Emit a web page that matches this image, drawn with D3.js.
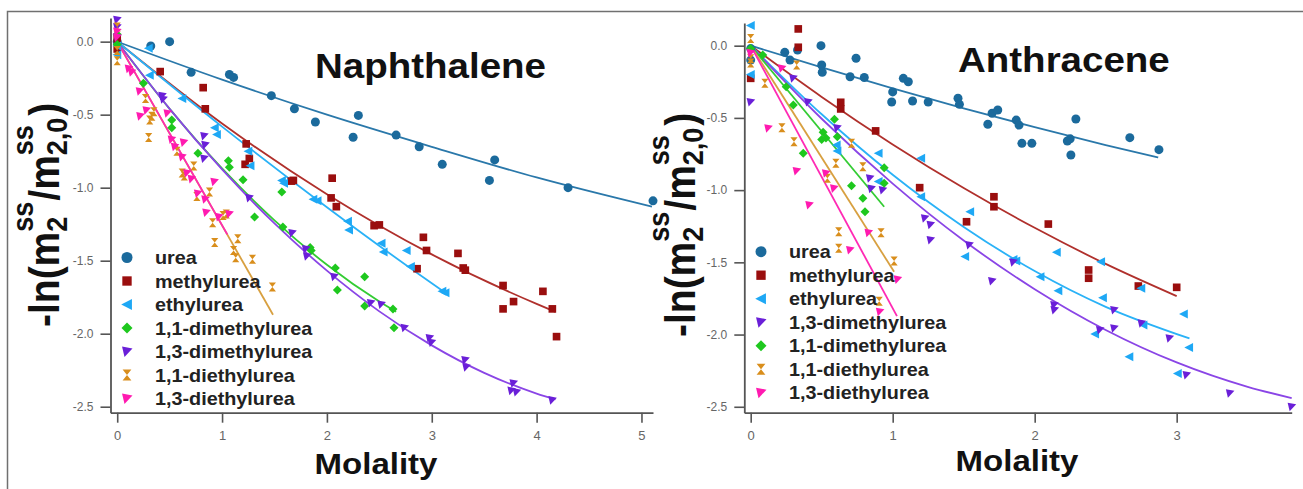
<!DOCTYPE html>
<html><head><meta charset="utf-8">
<script src="https://cdn.jsdelivr.net/npm/d3@7/dist/d3.min.js"></script>
<style>
html,body{margin:0;padding:0;background:#fff;}
svg{display:block;font-family:"Liberation Sans",Arial,Helvetica,sans-serif;}
</style></head>
<body><svg id="chart" width="1303" height="489"></svg>
<script>
// ---------- DATA ----------
const naphLegendOrder = ["urea","methylurea","ethylurea","1,1-dimethylurea","1,3-dimethylurea","1,1-diethylurea","1,3-diethylurea"];
const anthLegendOrder = ["urea","methylurea","ethylurea","1,3-dimethylurea","1,1-dimethylurea","1,1-diethylurea","1,3-diethylurea"];
const naphXTicks = [0,1,2,3,4,5];
const anthXTicks = [0,1,2,3];
const yTicks = [0,-0.5,-1.0,-1.5,-2.0,-2.5];

// Naphthalene points [molality, -ln(m2/m2,0)]
const naphUrea = [[0,0],[0.32,-0.03],[0.5,0.0],[0.705,-0.21],[1.07,-0.225],[1.11,-0.245],[1.47,-0.37],[1.69,-0.46],[1.89,-0.55],[2.25,-0.655],[2.30,-0.505],[2.66,-0.64],[2.88,-0.72],[3.10,-0.84],[3.55,-0.95],[3.60,-0.81],[4.30,-1.0],[5.11,-1.09]];
const naphMethyl = [[0,-0.05],[0,0.02],[0.41,-0.205],[0.82,-0.315],[0.84,-0.46],[1.23,-0.70],[1.22,-0.84],[1.26,-0.80],[1.66,-0.955],[1.68,-0.95],[2.05,-0.935],[2.04,-1.07],[2.09,-1.13],[2.45,-1.26],[2.50,-1.255],[2.86,-1.555],[2.92,-1.34],[2.95,-1.43],[3.25,-1.45],[3.30,-1.55],[3.32,-1.565],[3.68,-1.67],[3.68,-1.83],[3.78,-1.78],[4.06,-1.71],[4.15,-1.83],[4.19,-2.02]];
const naphEthyl = [[0,-0.09],[0,-0.03],[0.30,-0.046],[0.31,-0.23],[0.62,-0.39],[0.93,-0.59],[0.95,-0.635],[1.25,-0.75],[1.27,-0.85],[1.57,-0.95],[1.59,-0.97],[1.87,-1.08],[1.91,-1.09],[2.20,-1.23],[2.21,-1.29],[2.52,-1.38],[2.54,-1.44],[2.76,-1.43],[2.80,-1.54],[3.10,-1.71],[3.13,-1.72]];
const naph11DiMe = [[0,0.05],[0,-0.02],[0.25,-0.285],[0.52,-0.536],[0.52,-0.59],[0.77,-0.765],[1.06,-0.815],[1.07,-0.86],[1.20,-0.945],[1.31,-1.20],[1.57,-1.03],[1.58,-1.27],[1.84,-1.41],[1.85,-1.43],[2.08,-1.55],[2.10,-1.70],[2.36,-1.61],[2.36,-1.81],[2.63,-1.83],[2.64,-1.96]];
const naph13DiMe = [[0,0.15],[0,0.1],[0,0.03],[0.44,-0.395],[0.43,-0.37],[0.83,-0.646],[0.84,-0.707],[0.83,-0.80],[1.26,-1.07],[1.67,-1.31],[1.81,-1.47],[1.80,-1.42],[2.07,-1.61],[2.42,-1.79],[2.52,-1.80],[2.74,-1.96],[2.98,-2.03],[3.0,-2.06],[3.32,-2.18],[3.33,-2.23],[3.76,-2.39],[3.78,-2.34],[3.81,-2.40],[4.15,-2.455]];
const naph11DiEt = [[0,0.1],[0,-0.13],[0,-0.06],[0.27,-0.39],[0.33,-0.51],[0.31,-0.537],[0.35,-0.48],[0.30,-0.657],[0.57,-0.75],[0.62,-0.90],[0.64,-0.92],[0.73,-0.851],[0.76,-1.06],[0.88,-1.03],[0.91,-1.24],[0.93,-1.375],[1.01,-1.19],[1.04,-1.18],[1.11,-1.43],[1.13,-1.48],[1.15,-1.35],[1.29,-1.49],[1.48,-1.68]];
const naph13DiEt = [[0,0.07],[0,0.03],[0.11,-0.185],[0.14,-0.21],[0.215,-0.34],[0.22,-0.51],[0.28,-0.47],[0.48,-0.49],[0.52,-0.67],[0.55,-0.72],[0.62,-0.79],[0.635,-0.69],[0.667,-0.90],[0.71,-0.94],[0.77,-1.04],[0.84,-1.08],[0.927,-0.96],[0.85,-1.17],[0.97,-1.20],[1.07,-1.18]];

// Naphthalene fitted curves
const naphFitUrea = [[0,0],[1,-0.26],[2,-0.50],[3,-0.72],[4,-0.93],[5.1,-1.13]];
const naphFitMethyl = [[0,0],[1,-0.56],[2,-1.045],[3,-1.457],[4,-1.796],[4.18,-1.85]];
const naphFitEthyl = [[0,0],[1,-0.582],[2,-1.134],[3,-1.655],[3.16,-1.735]];
const naphFit11DiMe = [[0,0],[0.5,-0.46],[1,-0.868],[1.5,-1.224],[2,-1.528],[2.5,-1.78],[2.66,-1.85]];
const naphFit13DiMe = [[0,0],[0.5,-0.46],[1,-0.875],[1.5,-1.245],[2,-1.568],[2.5,-1.847],[3,-2.08],[3.5,-2.268],[4,-2.41],[4.18,-2.45]];
const naphFit11DiEt = [[0,0],[1.486,-1.87]];
const naphFit13DiEt = [[0,0],[1.05,-1.32]];

// Anthracene points
const anthUrea = [[0,-0.02],[0,-0.1],[0.24,-0.046],[0.277,-0.10],[0.33,-0.03],[0.495,0.0],[0.50,-0.134],[0.504,-0.184],[0.70,-0.215],[0.742,-0.087],[0.80,-0.22],[0.993,-0.39],[1.00,-0.32],[1.075,-0.226],[1.11,-0.25],[1.14,-0.383],[1.25,-0.39],[1.46,-0.364],[1.47,-0.406],[1.67,-0.544],[1.70,-0.468],[1.74,-0.445],[1.87,-0.515],[1.89,-0.55],[1.91,-0.676],[1.98,-0.676],[2.23,-0.66],[2.25,-0.645],[2.255,-0.757],[2.29,-0.508],[2.67,-0.637],[2.875,-0.72]];
const anthMethyl = [[0,-0.226],[0.335,0.116],[0.335,-0.011],[0.634,-0.392],[0.634,-0.438],[0.88,-0.59],[1.19,-0.983],[1.52,-1.219],[1.713,-1.046],[1.713,-1.115],[2.096,-1.235],[2.38,-1.553],[2.38,-1.61],[2.73,-1.664],[3.00,-1.673]];
const anthEthyl = [[0,0.14],[0,-0.2],[0.605,-0.688],[0.61,-0.73],[0.90,-0.745],[0.90,-0.94],[1.20,-0.78],[1.20,-1.046],[1.545,-1.15],[1.51,-1.46],[1.85,-1.48],[1.87,-1.49],[2.04,-1.60],[2.155,-1.43],[2.166,-1.697],[2.425,-1.997],[2.467,-1.496],[2.48,-1.745],[2.666,-2.154],[2.75,-1.68],[2.765,-1.934],[3.007,-2.27],[3.05,-1.858],[3.087,-2.09]];
const anth13DiMe = [[0,-0.39],[0.30,-0.226],[0.405,-0.39],[0.61,-0.57],[0.84,-0.918],[0.85,-0.99],[0.93,-1.0],[1.227,-1.195],[1.267,-1.24],[1.267,-1.345],[1.54,-1.38],[1.70,-1.63],[1.85,-1.50],[2.138,-1.796],[2.14,-1.83],[2.46,-1.969],[2.56,-1.957],[2.56,-1.83],[2.753,-1.922],[2.95,-2.026],[3.07,-2.28],[3.375,-2.407],[3.81,-2.50]];
const anth11DiMe = [[0,-0.02],[0.085,-0.064],[0.25,-0.284],[0.30,-0.41],[0.37,-0.745],[0.51,-0.60],[0.50,-0.65],[0.53,-0.64],[0.59,-0.51],[0.61,-0.63],[0.71,-0.97],[0.79,-1.057],[0.805,-1.15],[0.94,-0.845],[0.94,-0.953]];
const anth11DiEt = [[0,0.05],[0,-0.09],[0,-0.12],[0.10,-0.26],[0.324,-0.134],[0.22,-0.568],[0.305,-0.665],[0.54,-0.918],[0.60,-0.814],[0.71,-0.676],[0.79,-0.838],[0.62,-1.288],[0.62,-1.403],[0.918,-1.295],[1.01,-1.49],[0.905,-1.77]];
const anth13DiEt = [[0,-0.05],[0.22,-0.157],[0.124,-0.572],[0.324,-0.868],[0.413,-1.103],[0.53,-0.884],[0.587,-0.988],[0.70,-1.415],[0.83,-1.295],[1.035,-1.618],[0.91,-1.842]];

// Anthracene fitted curves
const anthFitUrea = [[0,0],[0.5,-0.15],[1,-0.296],[1.5,-0.434],[2,-0.564],[2.5,-0.688],[2.87,-0.774]];
const anthFitMethyl = [[0,0],[0.5,-0.355],[1,-0.684],[1.5,-0.986],[2,-1.261],[2.5,-1.511],[3,-1.734]];
const anthFitEthyl = [[0,0],[0.5,-0.475],[1,-0.894],[1.5,-1.255],[2,-1.56],[2.5,-1.808],[3.09,-2.027]];
const anthFit13DiMe = [[0,0],[0.5,-0.506],[1,-0.955],[1.5,-1.349],[2,-1.686],[2.5,-1.968],[3,-2.193],[3.5,-2.362],[3.81,-2.44]];
const anthFit11DiMe = [[0,0],[0.94,-1.115]];
const anthFit11DiEt = [[0,0],[1.01,-1.565]];
const anthFit13DiEt = [[0,0],[1.03,-1.872]];

// ---------- STYLE ----------
const markerColor = {"urea":"#1b6a9c","methylurea":"#9a0e0e","ethylurea":"#1ea8f5","1,1-dimethylurea":"#1ec81e","1,3-dimethylurea":"#6a1fd8","1,1-diethylurea":"#d98e1c","1,3-diethylurea":"#ff1ab0"};
const lineColor = {"urea":"#2a78aa","methylurea":"#b0302c","ethylurea":"#2ab2f7","1,1-dimethylurea":"#33cc33","1,3-dimethylurea":"#8a45e6","1,1-diethylurea":"#d8a040","1,3-diethylurea":"#ff2ab4"};
const markerShape = {"urea":"circle","methylurea":"square","ethylurea":"left","1,1-dimethylurea":"diamond","1,3-dimethylurea":"corner","1,1-diethylurea":"hourglass","1,3-diethylurea":"corner"};

function markerPath(shape, s){
  switch(shape){
    case "circle": return `M${-s},0A${s},${s} 0 1,0 ${s},0A${s},${s} 0 1,0 ${-s},0Z`;
    case "square": s*=0.85; return `M${-s},${-s}H${s}V${s}H${-s}Z`;
    case "left": return `M${-s*1.05},0L${s*0.9},${-s}L${s*0.9},${s}Z`;
    case "diamond": return `M0,${-s}L${s},0L0,${s}L${-s},0Z`;
    case "corner": return `M${-s*0.9},${-s*0.9}L${s},${-s*0.55}L${-s*0.45},${s}Z`;
    case "hourglass": return `M${-s*0.8},${-s}H${s*0.8}L0,0L${s*0.8},${s}H${-s*0.8}L0,0Z`;
  }
}

const SX = 1.1;
const svg = d3.select("#chart");
svg.append("rect").attr("width",1303).attr("height",489).attr("fill","#fff");
svg.append("path").attr("d","M7.5,489V11.5H1303").attr("fill","none").attr("stroke","#707070").attr("stroke-width",1.5);

function addText(g, x, y, str, size, opts={}){
  return g.append("text")
    .attr("transform",`translate(${x},${y}) scale(${SX},1)`)
    .attr("text-anchor", opts.anchor||"start")
    .style("font-size", size+"px")
    .style("font-weight", opts.weight||"bold")
    .attr("fill", opts.fill||"#111")
    .text(str);
}

function yLabel(x, y){
  const g = svg.append("g").attr("transform",`translate(${x},${y}) scale(${SX},1) rotate(-90)`)
    .style("font-weight","bold").attr("fill","#111");
  const main = 39, small = 27, subDy = 7, supDy = -24;
  let cx = 0;
  function piece(str, size, dy){
    const t = g.append("text").attr("x",cx).attr("y",dy).style("font-size",size+"px").text(str);
    return t.node().getComputedTextLength();
  }
  cx += piece("-ln(m", main, 0);
  let a = piece("2", small, subDy), b = piece("ss", small, supDy);
  cx += Math.max(a,b) + 1;
  cx += piece("/m", main, 0);
  a = piece("2,0", small, subDy); b = piece("ss", small, supDy);
  cx += Math.max(a,b) + 2;
  piece(")", main, 0);
}

function panel(cfg){
  const x = d3.scaleLinear().domain(cfg.xDomain).range(cfg.xRange);
  const y = d3.scaleLinear().domain(cfg.yDomain).range(cfg.yRange);
  const g = svg.append("g");
  const line = d3.line().x(d=>x(d[0])).y(d=>y(d[1])).curve(d3.curveMonotoneX);

  // fit lines
  cfg.names.forEach(n=>{
    g.append("path").datum(cfg.fits[n]).attr("d",line)
      .attr("fill","none").attr("stroke",lineColor[n]).attr("stroke-width",1.8);
  });
  // points
  cfg.names.forEach(n=>{
    g.selectAll(null).data(cfg.points[n]).join("path")
      .attr("transform",d=>`translate(${x(d[0])},${y(d[1])})`)
      .attr("d",markerPath(markerShape[n], 4.5))
      .attr("fill",markerColor[n]);
  });

  // axes
  const fmt = d=> d.toFixed(1);
  const ya = g.append("g").attr("transform",`translate(${cfg.xRange[0]},0)`)
    .call(d3.axisLeft(y).tickValues(yTicks).tickFormat(fmt).tickSize(10).tickPadding(7).tickSizeOuter(0));
  const xa = g.append("g").attr("transform",`translate(0,${cfg.yRange[1]})`)
    .call(d3.axisBottom(x).tickValues(cfg.xTicks).tickFormat(d3.format("d")).tickSize(10).tickPadding(8).tickSizeOuter(0));
  [ya,xa].forEach(a=>{
    a.select(".domain").attr("stroke","#555").attr("stroke-width",1.8);
    a.selectAll(".tick line").attr("stroke","#555").attr("stroke-width",1.6);
    a.selectAll(".tick text").attr("fill","#666").style("font-family","'Liberation Sans',Arial,sans-serif");
  });
  ya.selectAll(".tick text").style("font-size","12px");
  xa.selectAll(".tick text").style("font-size","13px");

  // legend
  cfg.legendOrder.forEach((n,i)=>{
    const ly = cfg.legendY + i*cfg.legendStep;
    g.append("path").attr("transform",`translate(${cfg.legendX},${ly})`)
      .attr("d",markerPath(markerShape[n], 5.5)).attr("fill",markerColor[n]);
    addText(g, cfg.legendX+28, ly+6.5, n, 18, {fill:"#222"});
  });

  addText(g, cfg.titleX, cfg.titleY, cfg.title, 35);
  addText(g, cfg.molX, cfg.molY, "Molality", 30, {anchor:"middle"});
  yLabel(cfg.ylabX, cfg.ylabY);
}

panel({
  xDomain:[-0.064,5.11], xRange:[110.5,653], yDomain:[0.162,-2.541], yRange:[18,412.7], xTicks:naphXTicks,
  names:["urea","methylurea","ethylurea","1,1-dimethylurea","1,3-dimethylurea","1,1-diethylurea","1,3-diethylurea"],
  points:{"urea":naphUrea,"methylurea":naphMethyl,"ethylurea":naphEthyl,"1,1-dimethylurea":naph11DiMe,"1,3-dimethylurea":naph13DiMe,"1,1-diethylurea":naph11DiEt,"1,3-diethylurea":naph13DiEt},
  fits:{"urea":naphFitUrea,"methylurea":naphFitMethyl,"ethylurea":naphFitEthyl,"1,1-dimethylurea":naphFit11DiMe,"1,3-dimethylurea":naphFit13DiMe,"1,1-diethylurea":naphFit11DiEt,"1,3-diethylurea":naphFit13DiEt},
  legendOrder:naphLegendOrder, legendX:127, legendY:257.5, legendStep:23.5,
  title:"Naphthalene", titleX:315, titleY:78, molX:376, molY:474, ylabX:59, ylabY:327
});
panel({
  xDomain:[-0.045,3.81], xRange:[744.3,1291.7], yDomain:[0.157,-2.541], yRange:[23,412.7], xTicks:anthXTicks,
  names:["urea","methylurea","ethylurea","1,3-dimethylurea","1,1-dimethylurea","1,1-diethylurea","1,3-diethylurea"],
  points:{"urea":anthUrea,"methylurea":anthMethyl,"ethylurea":anthEthyl,"1,1-dimethylurea":anth11DiMe,"1,3-dimethylurea":anth13DiMe,"1,1-diethylurea":anth11DiEt,"1,3-diethylurea":anth13DiEt},
  fits:{"urea":anthFitUrea,"methylurea":anthFitMethyl,"ethylurea":anthFitEthyl,"1,1-dimethylurea":anthFit11DiMe,"1,3-dimethylurea":anthFit13DiMe,"1,1-diethylurea":anthFit11DiEt,"1,3-diethylurea":anthFit13DiEt},
  legendOrder:anthLegendOrder, legendX:761, legendY:251.7, legendStep:23.5,
  title:"Anthracene", titleX:958, titleY:72, molX:1017, molY:471, ylabX:695, ylabY:337
});
</script></body></html>
